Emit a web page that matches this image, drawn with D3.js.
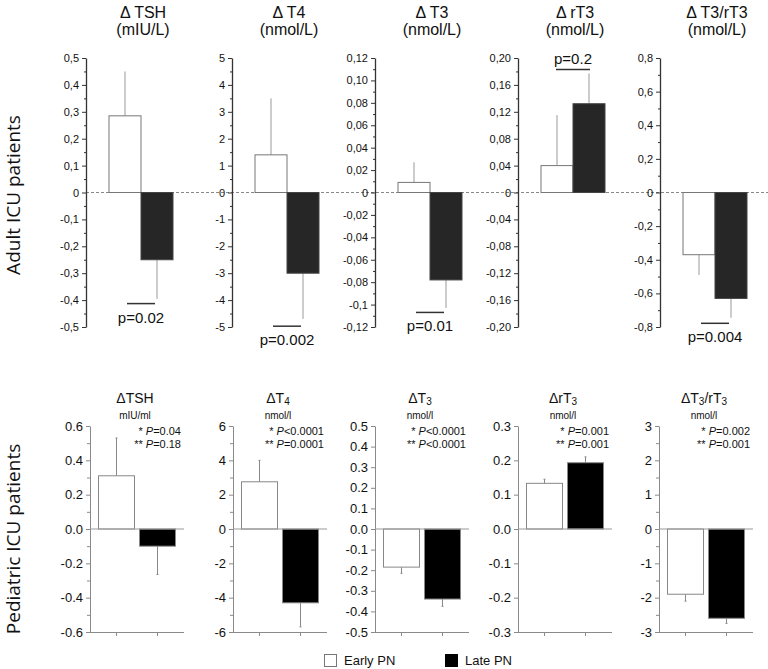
<!DOCTYPE html>
<html>
<head>
<meta charset="utf-8">
<script src="https://cdn.jsdelivr.net/npm/d3@7"></script>
<style>
  html, body { margin: 0; padding: 0; background: #fff; }
  svg { display: block; }
</style>
</head>
<body>
<svg id="chart" width="768" height="669"></svg>
<script>
// ---------------- DATA ----------------
const groups = ["Early PN", "Late PN"];

// Adult ICU patients (top row)
const adultTitles = ["Δ TSH", "Δ T4", "Δ T3", "Δ rT3", "Δ T3/rT3"];
const adultUnits = ["(mIU/L)", "(nmol/L)", "(nmol/L)", "(nmol/L)", "(nmol/L)"];
const adultEarly = [0.285, 1.4, 0.009, 0.04, -0.37];
const adultEarlyErr = [0.45, 3.5, 0.027, 0.115, -0.49];
const adultLate = [-0.25, -3.0, -0.078, 0.132, -0.63];
const adultLateErr = [-0.395, -4.7, -0.103, 0.177, -0.745];
const adultP = ["p=0.02", "p=0.002", "p=0.01", "p=0.2", "p=0.004"];
const adultPLineValue = [-0.413, -4.97, -0.107, 0.183, -0.778];
const adultTickLabels = [
  ["0,5","0,4","0,3","0,2","0,1","0","-0,1","-0,2","-0,3","-0,4","-0,5"],
  ["5","4","3","2","1","0","-1","-2","-3","-4","-5"],
  ["0,12","0,10","0,08","0,06","0,04","0,02","0","-0,02","-0,04","-0,06","-0,08","-0,1","-0,12"],
  ["0,20","0,16","0,12","0,08","0,04","0","-0,04","-0,08","-0,12","-0,16","-0,20"],
  ["0,8","0,6","0,4","0,2","0","-0,2","-0,4","-0,6","-0,8"]
];

// Pediatric ICU patients (bottom row)
const pedTitles = [
  [["ΔTSH", false]],
  [["ΔT", false], ["4", true]],
  [["ΔT", false], ["3", true]],
  [["ΔrT", false], ["3", true]],
  [["ΔT", false], ["3", true], ["/rT", false], ["3", true]]
];
const pedUnits = ["mIU/ml", "nmol/l", "nmol/l", "nmol/l", "nmol/l"];
const pedEarly = [0.31, 2.75, -0.185, 0.133, -1.9];
const pedEarlyErr = [0.53, 4.0, -0.215, 0.145, -2.1];
const pedLate = [-0.1, -4.3, -0.34, 0.193, -2.6];
const pedLateErr = [-0.265, -5.7, -0.375, 0.21, -2.75];
const pedP1 = [["=", "0.04"], ["<", "0.0001"], ["<", "0.0001"], ["=", "0.001"], ["=", "0.002"]];
const pedP2 = [["=", "0.18"], ["=", "0.0001"], ["<", "0.0001"], ["=", "0.001"], ["=", "0.001"]];
const pedTickLabels = [
  ["0.6","0.4","0.2","0.0","-0.2","-0.4","-0.6"],
  ["6","4","2","0","-2","-4","-6"],
  ["0.5","0.4","0.3","0.2","0.1","0.0","-0.1","-0.2","-0.3","-0.4","-0.5"],
  ["0.3","0.2","0.1","0.0","-0.1","-0.2","-0.3"],
  ["3","2","1","0","-1","-2","-3"]
];
const pedMinor = [true, true, false, false, true];

// ---------------- LAYOUT ----------------
const svg = d3.select("#chart");
const num = s => +s.replace(",", ".");

const topAxisX = [86, 232, 375, 518, 660];
const topY0 = 58, topY1 = 327;
const botAxisX = [90, 233, 375, 518, 659];
const botY0 = 426, botY1 = 632;

// Row labels
svg.append("text")
  .attr("transform", "translate(20,195) rotate(-90)")
  .attr("text-anchor", "middle")
  .attr("font-family", "'Open Sans', sans-serif")
  .attr("font-size", 19)
  .attr("fill", "#111")
  .text("Adult ICU patients");
svg.append("text")
  .attr("transform", "translate(20,539) rotate(-90)")
  .attr("text-anchor", "middle")
  .attr("font-family", "'Open Sans', sans-serif")
  .attr("font-size", 19)
  .attr("fill", "#111")
  .text("Pediatric ICU patients");

// ---------- TOP ROW ----------
// dashed zero line spanning all panels
{
  const yz = d3.scaleLinear().domain([num(adultTickLabels[0][adultTickLabels[0].length-1]), num(adultTickLabels[0][0])]).range([topY1, topY0]);
  svg.append("line")
    .attr("x1", topAxisX[0]).attr("x2", 768)
    .attr("y1", yz(0)).attr("y2", yz(0))
    .attr("stroke", "#888").attr("stroke-width", 1)
    .attr("stroke-dasharray", "3,2");
}

adultTitles.forEach((title, i) => {
  const ax = topAxisX[i];
  const labels = adultTickLabels[i];
  const vals = labels.map(num);
  const max = d3.max(vals), min = d3.min(vals);
  const y = d3.scaleLinear().domain([min, max]).range([topY1, topY0]);
  const x = d3.scaleBand().domain(groups).range([ax + 23, ax + 87]).padding(0);
  const g = svg.append("g");

  // minor ticks
  const minors = d3.pairs(vals).map(([a, b]) => (a + b) / 2);
  g.append("g").attr("transform", `translate(${ax},0)`)
    .call(d3.axisLeft(y).tickValues(minors).tickSize(2).tickFormat(""))
    .call(s => s.select(".domain").remove())
    .call(s => s.selectAll("line").attr("stroke", "#333"));
  // major axis
  g.append("g").attr("transform", `translate(${ax},0)`)
    .call(d3.axisLeft(y).tickValues(vals).tickSize(4).tickSizeOuter(0).tickPadding(3)
      .tickFormat((d, k) => labels[k]))
    .call(s => s.select(".domain").attr("stroke", "#333").attr("stroke-width", 1.3))
    .call(s => s.selectAll("line").attr("stroke", "#333"))
    .call(s => s.selectAll("text").attr("font-family", "Arial, 'Liberation Sans', sans-serif")
      .attr("font-size", 11).attr("fill", "#111"));

  const vals2 = [adultEarly[i], adultLate[i]];
  const errs = [adultEarlyErr[i], adultLateErr[i]];
  // error bars
  g.selectAll("line.err").data(groups).join("line")
    .attr("x1", d => x(d) + x.bandwidth() / 2).attr("x2", d => x(d) + x.bandwidth() / 2)
    .attr("y1", (d, k) => y(vals2[k])).attr("y2", (d, k) => y(errs[k]))
    .attr("stroke", "#999").attr("stroke-width", 1);
  // bars
  g.selectAll("rect").data(groups).join("rect")
    .attr("x", d => x(d)).attr("width", x.bandwidth())
    .attr("y", (d, k) => Math.min(y(0), y(vals2[k])))
    .attr("height", (d, k) => Math.abs(y(vals2[k]) - y(0)))
    .attr("fill", (d, k) => k === 0 ? "#fff" : "#262626")
    .attr("stroke", (d, k) => k === 0 ? "#777" : "#444")
    .attr("stroke-width", 1);

  // titles
  const cx = x.range()[0] + (x.range()[1] - x.range()[0]) / 2 + 2;
  svg.append("text").attr("x", cx).attr("y", 18).attr("text-anchor", "middle")
    .attr("font-family", "Arial, 'Liberation Sans', sans-serif").attr("font-size", 16)
    .attr("fill", "#111").text(title);
  svg.append("text").attr("x", cx).attr("y", 35).attr("text-anchor", "middle")
    .attr("font-family", "Arial, 'Liberation Sans', sans-serif").attr("font-size", 16)
    .attr("fill", "#111").text(adultUnits[i]);

  // p-value annotation
  const mid = x("Late PN");
  const ly = y(adultPLineValue[i]);
  const half = adultPLineValue[i] > 0 ? 17 : 14;
  svg.append("line").attr("x1", mid - half).attr("x2", mid + half)
    .attr("y1", ly).attr("y2", ly).attr("stroke", "#333").attr("stroke-width", 1.5);
  svg.append("text").attr("x", mid).attr("y", adultPLineValue[i] > 0 ? ly - 5 : ly + 19)
    .attr("text-anchor", "middle")
    .attr("font-family", "Arial, 'Liberation Sans', sans-serif").attr("font-size", 15)
    .attr("fill", "#111").text(adultP[i]);
});

// ---------- BOTTOM ROW ----------
pedTitles.forEach((parts, i) => {
  const ax = botAxisX[i];
  const labels = pedTickLabels[i];
  const vals = labels.map(num);
  const max = d3.max(vals), min = d3.min(vals);
  const y = d3.scaleLinear().domain([min, max]).range([botY1, botY0]);
  const x = d3.scaleBand().domain(groups).range([ax, ax + 94]).paddingInner(0.122).paddingOuter(0.207);
  const g = svg.append("g");
  const axisCol = "#8a8a8a";

  if (pedMinor[i]) {
    const minors = d3.pairs(vals).map(([a, b]) => (a + b) / 2);
    g.append("g").attr("transform", `translate(${ax},0)`)
      .call(d3.axisLeft(y).tickValues(minors).tickSize(3).tickFormat(""))
      .call(s => s.select(".domain").remove())
      .call(s => s.selectAll("line").attr("stroke", axisCol));
  }
  g.append("g").attr("transform", `translate(${ax},0)`)
    .call(d3.axisLeft(y).tickValues(vals).tickSize(4).tickSizeOuter(0).tickPadding(3)
      .tickFormat((d, k) => labels[k]))
    .call(s => s.select(".domain").attr("stroke", axisCol))
    .call(s => s.selectAll("line").attr("stroke", axisCol))
    .call(s => s.selectAll("text").attr("font-family", "Arial, 'Liberation Sans', sans-serif")
      .attr("font-size", 13).attr("fill", "#111"));
  // x axis at bottom
  g.append("g").attr("transform", `translate(0,${botY1})`)
    .call(d3.axisBottom(x).tickSize(4).tickSizeOuter(0).tickFormat(""))
    .call(s => s.select(".domain").attr("stroke", axisCol)
      .attr("d", `M${ax},0.5H${ax + 94}`))
    .call(s => s.selectAll("line").attr("stroke", axisCol));

  const vals2 = [pedEarly[i], pedLate[i]];
  const errs = [pedEarlyErr[i], pedLateErr[i]];
  g.selectAll("line.err").data(groups).join("line")
    .attr("x1", d => x(d) + x.bandwidth() / 2).attr("x2", d => x(d) + x.bandwidth() / 2)
    .attr("y1", (d, k) => y(vals2[k])).attr("y2", (d, k) => y(errs[k]))
    .attr("stroke", "#888").attr("stroke-width", 1);
  g.selectAll("line.cap").data(groups).join("line")
    .attr("x1", d => x(d) + x.bandwidth() / 2 - 1).attr("x2", d => x(d) + x.bandwidth() / 2 + 1)
    .attr("y1", (d, k) => y(errs[k])).attr("y2", (d, k) => y(errs[k]))
    .attr("stroke", "#888").attr("stroke-width", 1);
  g.selectAll("rect").data(groups).join("rect")
    .attr("x", d => x(d)).attr("width", x.bandwidth())
    .attr("y", (d, k) => Math.min(y(0), y(vals2[k])))
    .attr("height", (d, k) => Math.abs(y(vals2[k]) - y(0)))
    .attr("fill", (d, k) => k === 0 ? "#fff" : "#000")
    .attr("stroke", "#888").attr("stroke-width", 1);
  // zero line
  g.append("line").attr("x1", ax).attr("x2", ax + 94)
    .attr("y1", y(0)).attr("y2", y(0)).attr("stroke", "#999").attr("stroke-width", 1.2);

  // title
  const cx = ax + 45;
  const t = svg.append("text").attr("x", cx).attr("y", 403).attr("text-anchor", "middle")
    .attr("font-family", "Arial, 'Liberation Sans', sans-serif").attr("font-size", 14)
    .attr("fill", "#111");
  parts.forEach(([s, sub]) => {
    const ts = t.append("tspan").text(s);
    if (sub) ts.attr("font-size", 10).attr("dy", 2);
    else ts.attr("dy", t.selectAll("tspan").size() > 1 ? -2 : 0);
  });
  svg.append("text").attr("x", cx).attr("y", 419).attr("text-anchor", "middle")
    .attr("font-family", "Arial, 'Liberation Sans', sans-serif").attr("font-size", 10)
    .attr("fill", "#111").text(pedUnits[i]);

  // p annotations
  [[pedP1[i], "* ", 435], [pedP2[i], "** ", 448]].forEach(([pp, star, yy]) => {
    const a = svg.append("text").attr("x", ax + 91).attr("y", yy).attr("text-anchor", "end")
      .attr("font-family", "Arial, 'Liberation Sans', sans-serif").attr("font-size", 11)
      .attr("fill", "#111");
    a.append("tspan").text(star);
    a.append("tspan").attr("font-style", "italic").text("P");
    a.append("tspan").text(pp[0] + pp[1]);
  });
});

// ---------- LEGEND ----------
const legendX = [324, 445];
groups.forEach((gname, k) => {
  svg.append("rect").attr("x", legendX[k] + 0.5).attr("y", 654.5).attr("width", 12).attr("height", 12)
    .attr("fill", k === 0 ? "#fff" : "#000").attr("stroke", k === 0 ? "#777" : "#000");
  svg.append("text").attr("x", legendX[k] + 20).attr("y", 665)
    .attr("font-family", "Arial, 'Liberation Sans', sans-serif").attr("font-size", 13)
    .attr("fill", "#111").text(gname);
});
</script>
</body>
</html>
